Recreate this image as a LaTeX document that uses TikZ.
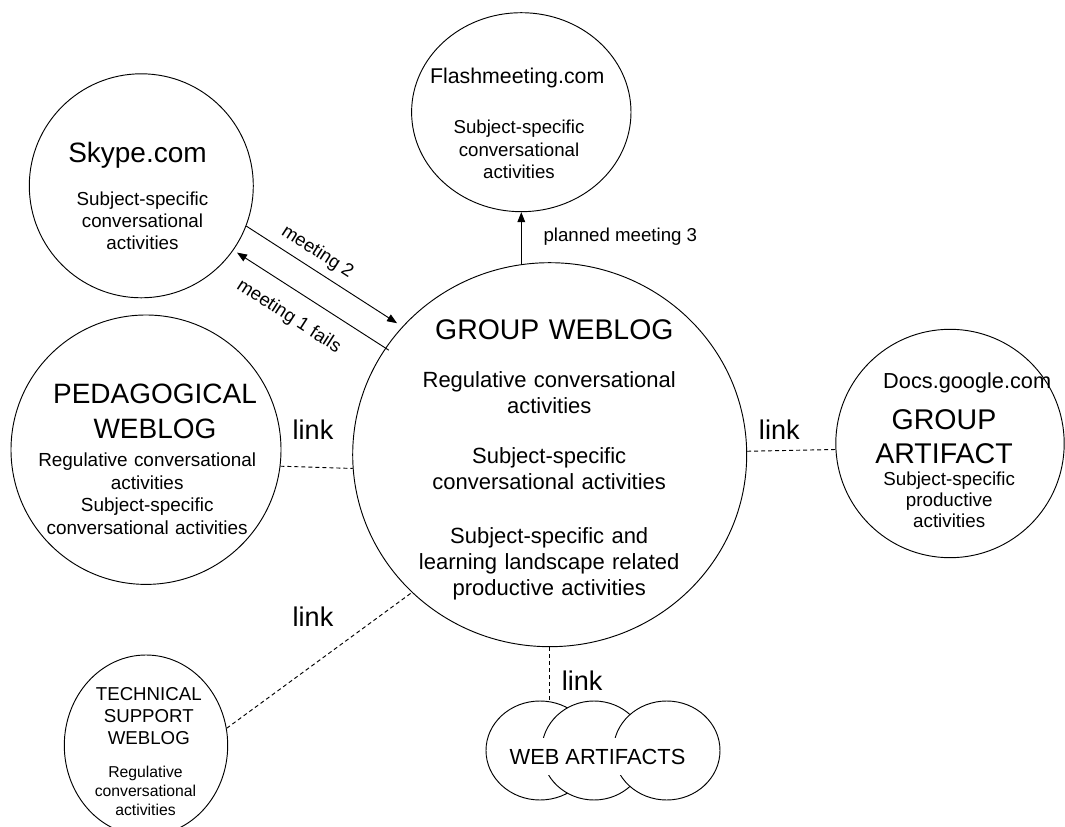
\documentclass[tikz,border=0pt]{standalone}
\usepackage{fontspec}
\setmainfont{Liberation Sans}
\usetikzlibrary{shapes.geometric,arrows.meta}
\begin{document}
\begin{tikzpicture}[x=0.75pt,y=-0.75pt,
  circ/.style={draw, ellipse, inner sep=0pt, line width=0.7pt},
  txt/.style={inner sep=0pt, anchor=base, align=center},
  lnk/.style={draw, line width=0.7pt, dash pattern=on 3pt off 2.25pt},
  arr/.style={draw, line width=0.7pt, -{Triangle[length=7.5pt,width=5.8pt]}},
  linklbl/.style={inner sep=0pt, anchor=base, font=\fontsize{20.3}{24}\selectfont},
  meetlbl/.style={inner sep=0pt, font=\fontsize{13.9}{16}\selectfont, rotate=-32.8}
]
\useasboundingbox (0,0) rectangle (1065,827);

% main circle
\node[circ, minimum width=295.5pt, minimum height=288pt] (main) at (549.7,454.7) {};
\node[txt, text width=185pt, font=\fontsize{21.3}{25}\selectfont] (mainT) at (554.3,340) {GROUP WEBLOG};
\node[txt, text width=210pt, font=\fontsize{16.5}{19.5}\selectfont] (mainA) at (549.2,387.3) {Regulative conversational\\activities};
\node[txt, text width=210pt, font=\fontsize{16.5}{19.5}\selectfont] (mainB) at (549.2,463.3) {Subject-specific\\conversational activities};
\node[txt, text width=215pt, font=\fontsize{16.5}{19.5}\selectfont] (mainC) at (549.2,543.3) {Subject-specific and\\learning landscape related\\productive activities};

% Skype
\node[circ, minimum width=168pt, minimum height=168pt] (skype) at (141.3,185.8) {};
\node[txt, text width=110pt, font=\fontsize{21}{25}\selectfont] (skypeT) at (137.5,162.3) {Skype.com};
\node[txt, text width=106pt, font=\fontsize{14.1}{16.6}\selectfont] (skypeB) at (142.5,205.7) {Subject-specific\\conversational\\activities};

% Flashmeeting
\node[circ, minimum width=164.55pt, minimum height=149.25pt] (flash) at (521.3,112.2) {};
\node[txt, text width=140pt, font=\fontsize{16}{19}\selectfont] (flashT) at (517.2,83.3) {Flashmeeting.com};
\node[txt, text width=106pt, font=\fontsize{14}{17.1}\selectfont] (flashB) at (519,133.3) {Subject-specific\\conversational\\activities};

% Pedagogical
\node[circ, minimum width=202.5pt, minimum height=202.05pt] (ped) at (146,449.7) {};
\node[txt, text width=160pt, font=\fontsize{21}{26.25}\selectfont] (pedT) at (155,403.3) {PEDAGOGICAL\\WEBLOG};
\node[txt, text width=170pt, font=\fontsize{14.2}{16.9}\selectfont] (pedB) at (147.2,466.7) {Regulative conversational\\activities\\Subject-specific\\conversational activities};

% Technical
\node[circ, minimum width=122.55pt, minimum height=135.6pt] (tech) at (146,745.4) {};
\node[txt, text width=85pt, font=\fontsize{14}{16.5}\selectfont] (techT) at (148.8,700) {TECHNICAL\\SUPPORT\\WEBLOG};
\node[txt, text width=82pt, font=\fontsize{11.8}{14.3}\selectfont] (techB) at (145.5,777.7) {Regulative\\conversational\\activities};

% Group artifact
\node[circ, minimum size=171.3pt] (art) at (950,443.5) {};
\node[txt, text width=132pt, font=\fontsize{16.3}{19}\selectfont] (artD) at (967.2,388.3) {Docs.google.com};
\node[txt, text width=110pt, font=\fontsize{21.4}{25}\selectfont] (artT) at (944,430) {GROUP\\ARTIFACT};
\node[txt, text width=104pt, font=\fontsize{14.1}{16}\selectfont] (artB) at (949.2,485) {Subject-specific\\productive\\activities};

% connectors
\draw[arr, shorten >=4.7pt] (skype.-21.5) -- (main.139.5);
\draw[arr, shorten <=-3pt, shorten >=3.2pt] (main.147.45) -- (skype.-35.5);
\draw[arr, shorten <=-1.5pt] (main.north -| flash.south) -- (flash.south);

\draw[lnk] (ped.-7.9) -- (main.184);
\draw[lnk] (tech.12.6) -- (main.225.8);
\draw[lnk] (main.1.4) -- (art.183.3);
\draw[lnk] (main.south) -- (main.south |- 0,701.5);

% web artifacts
\node[circ, fill=white, minimum width=81pt, minimum height=74.25pt] (web1) at (540,750.5) {};
\node[circ, fill=white, minimum width=78.45pt, minimum height=74.25pt] (web2) at (594,750.5) {};
\node[circ, fill=white, minimum width=79.95pt, minimum height=74.25pt] (web3) at (666.7,750.5) {};
\node[fill=white, inner xsep=3pt, inner ysep=8.3pt, anchor=base, font=\fontsize{16.4}{19}\selectfont] (webT) at (597.5,764) {WEB ARTIFACTS};

% labels
\node[linklbl] (l1) at (313,439.3) {link};
\node[linklbl] (l2) at (313,626.7) {link};
\node[linklbl] (l3) at (779.3,439.3) {link};
\node[linklbl] (l4) at (582.2,690) {link};
\node[inner sep=0pt, anchor=base west, font=\fontsize{14}{16}\selectfont] (pm3) at (543.3,241.7) {planned meeting 3};
\node[meetlbl] (m2) at (317.3,252.3) {meeting 2};
\node[meetlbl] (m1) at (288.7,316.7) {meeting 1 fails};
\end{tikzpicture}
\end{document}
